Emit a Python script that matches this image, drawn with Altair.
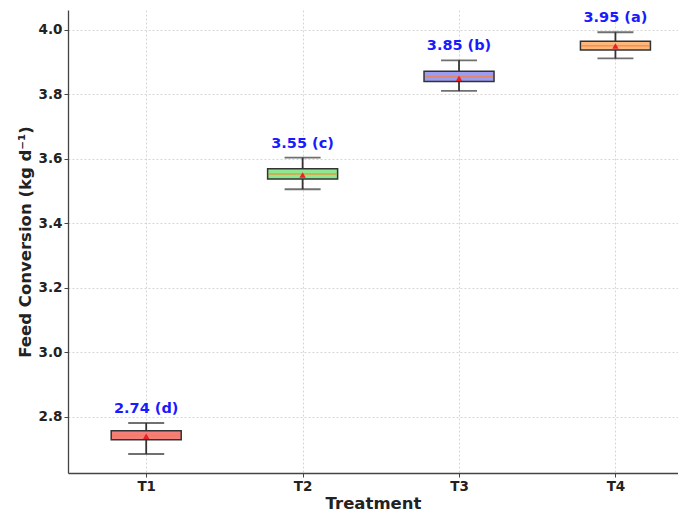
import altair as alt
import pandas as pd

treatments = ["T1", "T2", "T3", "T4"]
means = [2.74, 3.55, 3.85, 3.95]
letters = ["d", "c", "b", "a"]
q1 = [2.729, 3.538, 3.840, 3.938]
q3 = [2.757, 3.570, 3.872, 3.965]
medians = [2.742, 3.553, 3.855, 3.951]
whisk_lo = [2.685, 3.506, 3.811, 3.912]
whisk_hi = [2.781, 3.604, 3.906, 3.993]
box_colors = ["#f47f7f", "#8fe88f", "#9c9cf2", "#fdb97d"]
y_ticks = [2.8, 3.0, 3.2, 3.4, 3.6, 3.8, 4.0]

df = pd.DataFrame({
    "treatment": treatments,
    "pos": list(range(1, len(treatments) + 1)),
    "mean": means,
    "q1": q1,
    "q3": q3,
    "median": medians,
    "lo": whisk_lo,
    "hi": whisk_hi,
    "label": [f"{m:.2f} ({l})" for m, l in zip(means, letters)],
})

label_expr = "[" + ",".join(f"'{t}'" for t in treatments) + "][datum.value - 1]"

x = alt.X("pos:Q",
          scale=alt.Scale(domain=[0.5, 4.4], nice=False, zero=False, padding=0),
          axis=alt.Axis(values=[1, 2, 3, 4], labelExpr=label_expr, title="Treatment",
                        grid=True))
yscale = alt.Scale(domain=[2.626, 4.062], nice=False, zero=False, padding=0)

base = alt.Chart(df)

whisker = base.mark_rule(color="#333333", strokeWidth=1.8).encode(
    x=x,
    y=alt.Y("lo:Q", scale=yscale,
            axis=alt.Axis(values=y_ticks, format=".1f", title="Feed Conversion (kg d⁻¹)", grid=True)),
    y2="hi:Q",
)
cap_lo = base.mark_tick(orient="horizontal", size=36, thickness=1.8, color="#333333").encode(
    x="pos:Q", y="lo:Q")
cap_hi = base.mark_tick(orient="horizontal", size=36, thickness=1.8, color="#333333").encode(
    x="pos:Q", y="hi:Q")
box = base.mark_bar(size=70, stroke="#333333", strokeWidth=1.5).encode(
    x="pos:Q", y="q1:Q", y2="q3:Q",
    color=alt.Color("treatment:N", scale=alt.Scale(domain=treatments, range=box_colors), legend=None),
)
median = base.mark_tick(orient="horizontal", size=68, thickness=1.5, color="#ff7f2a").encode(
    x="pos:Q", y="median:Q")
mean_pt = base.mark_point(shape="triangle-up", size=40, filled=True, color="#e8202a", opacity=1).encode(
    x="pos:Q", y="mean:Q")
labels = base.mark_text(color="#1a1aff", fontWeight="bold", fontSize=14.5, baseline="bottom",
                        dy=-7, font="DejaVu Sans").encode(
    x="pos:Q", y="hi:Q", text="label:N")

chart = alt.layer(whisker, cap_lo, cap_hi, box, median, mean_pt, labels).properties(
    width=610, height=463,
    padding={"left": 9, "top": 2, "right": 0, "bottom": 0},
).configure_view(stroke=None).configure_axis(
    labelFont="DejaVu Sans", labelFontWeight="bold", labelFontSize=13.5, labelColor="#222222",
    titleFont="DejaVu Sans", titleFontWeight="bold", titleFontSize=16.5, titleColor="#222222",
    domainColor="#444444", domainWidth=1.3, tickColor="#444444", tickSize=4,
    gridColor="#cccccc", gridDash=[2, 2], gridWidth=0.8,
).configure_axisY(titlePadding=5).configure_axisX(titlePadding=3)

chart.save("out.html", embed_options={"renderer": "svg", "actions": False})
